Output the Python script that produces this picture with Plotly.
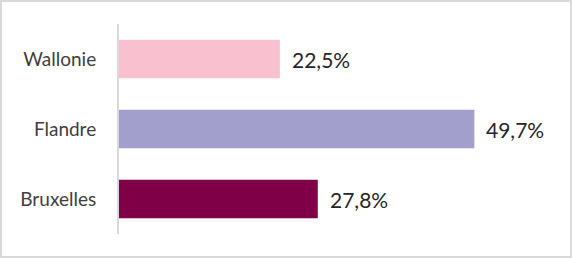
import plotly.graph_objects as go

regions = ["Bruxelles", "Flandre", "Wallonie"]
values = [27.8, 49.7, 22.5]
labels = ["27,8%", "49,7%", "22,5%"]
colors = ["#7F0046", "#A29FCC", "#F9C0D0"]

W, H = 572, 258
ml, mr, mt, mb = 119, 24, 24, 24
pw = W - ml - mr
ph = H - mt - mb

fig = go.Figure()
fig.add_trace(go.Bar(
    y=regions, x=values, orientation="h",
    marker=dict(color=colors, line=dict(width=0)),
    width=0.55, hoverinfo="skip",
))
for r, v, t in zip(regions, values, labels):
    fig.add_annotation(x=v, y=r, text=t, showarrow=False, xanchor="left",
                       xshift=10, font=dict(family="Lato", size=21, color="#262626"))

# outer frame
fig.add_shape(type="rect", xref="paper", yref="paper",
              x0=(1 - ml) / pw, x1=(W - 1 - ml) / pw,
              y0=1 - (H - 1 - mt) / ph, y1=1 + (mt - 1) / ph,
              line=dict(color="#D9D9D9", width=2), layer="below")

fig.update_layout(
    width=W, height=H,
    margin=dict(l=ml, r=mr, t=mt, b=mb),
    paper_bgcolor="white", plot_bgcolor="white",
    showlegend=False, bargap=0.45,
    font=dict(family="Lato", size=19, color="#404040"),
)
fig.update_xaxes(range=[0, 60], visible=False)
fig.update_yaxes(showline=True, linecolor="#D9D9D9", linewidth=2,
                 ticks="", showgrid=False, ticklabelstandoff=17,
                 tickfont=dict(family="Lato", size=19, color="#404040"))
fig.write_html("out.html")
